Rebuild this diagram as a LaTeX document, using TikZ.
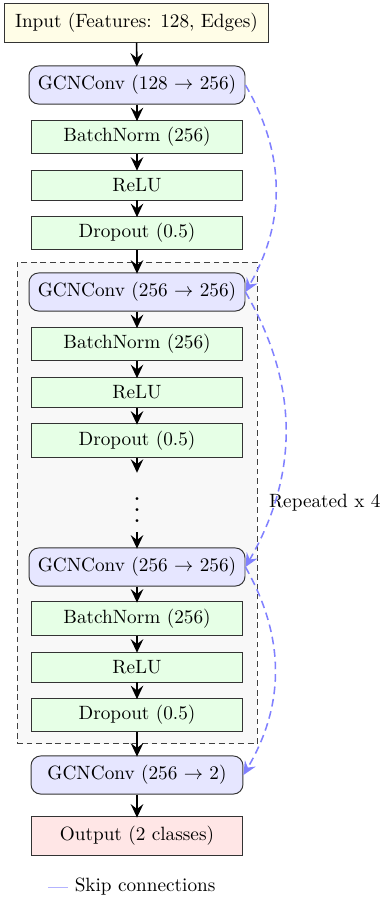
\documentclass[tikz,border=0pt]{standalone}
\usetikzlibrary{arrows.meta}
\definecolor{inputfill}{HTML}{FFFDE7}
\definecolor{gcnfill}{HTML}{E6E6FF}
\definecolor{normfill}{HTML}{E6FFE6}
\definecolor{outfill}{HTML}{FFE6E6}
\definecolor{repfill}{HTML}{F8F8F8}
\definecolor{skipblue}{HTML}{8080FF}
\definecolor{legendblue}{HTML}{B3B3FF}
\begin{document}
\begin{tikzpicture}[x=0.52pt,y=-0.52pt,
 base/.style={draw=black!80, line width=0.5pt, align=center, inner sep=0pt},
 inbox/.style={base, fill=inputfill, minimum width=136.8pt, minimum height=19.8pt},
 gcn/.style={base, fill=gcnfill, rounded corners=5pt, minimum height=19.8pt},
 layer/.style={base, fill=normfill, minimum width=110.2pt, minimum height=17.2pt},
 relubox/.style={layer, minimum height=15.6pt},
 outbox/.style={base, fill=outfill, minimum width=110.2pt, minimum height=19.8pt},
 repbox/.style={draw=black!75, dash pattern=on 3pt off 2pt, fill=repfill, line width=0.5pt},
 flow/.style={-{Stealth[length=7pt,width=6.5pt,inset=2.5pt]}, line width=0.8pt, shorten >=-0.6pt},
 skip/.style={-{Stealth[length=7pt,width=6.5pt,inset=2.5pt]}, draw=skipblue, dash pattern=on 4pt off 2.5pt, line width=0.8pt},
]
\useasboundingbox (0,0) rectangle (381,899);
\node[repbox, minimum width=124.8pt, minimum height=250.6pt] (rep) at (137,503) {};

\node[inbox] (in) at (136.5,23) {Input (Features: 128, Edges)};
\node[gcn, minimum width=112.3pt] (g1) at (137,85) {GCNConv (128 $\rightarrow$ 256)};
\node[layer] (b1) at (137,137) {BatchNorm (256)};
\node[relubox] (r1) at (137,185) {ReLU};
\node[layer] (d1) at (137,233) {Dropout (0.5)};

\node[gcn, minimum width=112.3pt] (g2) at (137,292) {GCNConv (256 $\rightarrow$ 256)};
\node[layer] (b2) at (137,344) {BatchNorm (256)};
\node[relubox] (r2) at (137,392.5) {ReLU};
\node[layer] (d2) at (137,440.5) {Dropout (0.5)};

\node[inner sep=0pt, minimum height=31.2pt] (dots) at (137,502) {\scalebox{1.4}{$\vdots$}};

\node[gcn, minimum width=112.3pt] (g3) at (137,567) {GCNConv (256 $\rightarrow$ 256)};
\node[layer] (b3) at (137,618.5) {BatchNorm (256)};
\node[relubox] (r3) at (137,667) {ReLU};
\node[layer] (d3) at (137,715) {Dropout (0.5)};

\node[gcn, minimum width=110.2pt] (g4) at (137,775) {GCNConv (256 $\rightarrow$ 2)};
\node[outbox] (out) at (137,836) {Output (2 classes)};

\node[anchor=west] (lbl) at ([xshift=2.5pt]rep.east) {Repeated x 4};

\node[anchor=west] (leg) at (68,887) {Skip connections};
\coordinate (legstart) at (48,887);
\draw[legendblue, line width=0.4pt] (legstart) -- (leg.west);

\draw[flow] (in) -- (g1);
\draw[flow] (g1) -- (b1);
\draw[flow] (b1) -- (r1);
\draw[flow] (r1) -- (d1);
\draw[flow] (d1) -- (g2);
\draw[flow] (g2) -- (b2);
\draw[flow] (b2) -- (r2);
\draw[flow] (r2) -- (d2);
\draw[flow] (d2) -- (dots);
\draw[flow] (dots) -- (g3);
\draw[flow] (g3) -- (b3);
\draw[flow] (b3) -- (r3);
\draw[flow] (r3) -- (d3);
\draw[flow] (d3) -- (g4);
\draw[flow] (g4) -- (out);

\draw[skip] (g1.east) to[bend left=30] (g2.east);
\draw[skip] (g2.east) to[bend left=30] (g3.east);
\draw[skip] (g3.east) to[bend left=30] (g4.east);
\end{tikzpicture}
\end{document}
